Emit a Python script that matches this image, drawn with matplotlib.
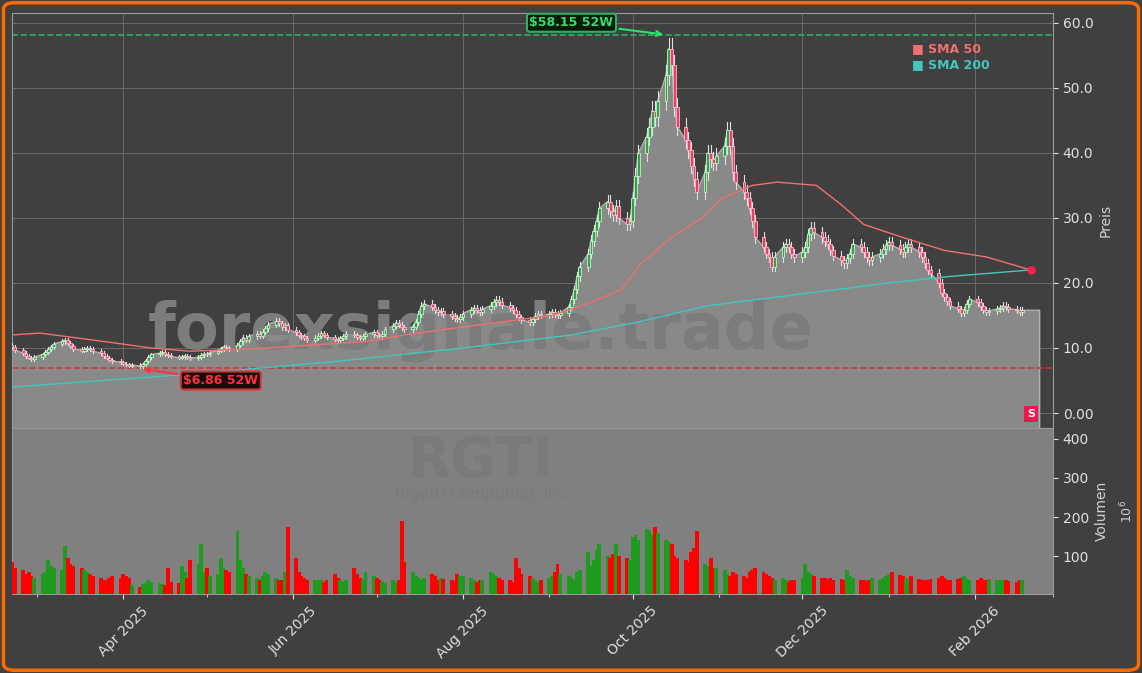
import numpy as np
import pandas as pd
import matplotlib
matplotlib.use('Agg')
import matplotlib.pyplot as plt
import matplotlib.dates as mdates
from matplotlib.patches import FancyBboxPatch

# daily closes (USD), by month, from 2025-02-20
close = [
    10.2, 9.7, 9.2, 8.8, 8.5, 8.3, 8.6,
    9.0, 9.4, 9.8, 10.2, 10.6, 11.0, 11.2, 10.8, 10.3, 9.9, 9.6, 9.8, 10.0, 9.8, 9.5, 9.2, 8.8, 8.5, 8.2, 8.0, 7.8,
    7.6, 7.5, 7.3, 7.4, 7.2, 7.5, 8.0, 8.6, 9.0, 9.2, 9.4, 9.1, 8.9, 8.7, 8.5, 8.6, 8.8, 8.6, 8.4, 8.6, 8.9, 9.1, 9.0, 9.3,
    9.6, 9.9, 10.2, 10.0, 9.8, 10.4, 11.0, 11.6, 11.3, 11.8, 12.2, 11.9, 12.5, 13.0, 13.6, 14.2, 13.8, 13.2, 13.5, 12.8, 12.4,
    12.0, 11.8, 11.5, 11.2, 11.6, 11.9, 12.3, 12.0, 11.7, 11.4, 11.2, 11.5, 11.8, 12.2, 12.0, 11.7, 11.5, 11.8, 12.1, 12.4, 12.0,
    11.8, 12.2, 12.9, 13.4, 13.9, 13.6, 13.2, 12.9, 13.3, 14.0, 15.2, 16.5, 16.8, 16.3, 15.8, 15.5, 15.7, 15.2, 14.9, 14.6, 14.4, 14.8,
    15.3, 15.9, 16.2, 15.8, 15.6, 16.0, 16.5, 17.0, 17.4, 17.1, 16.6, 16.2, 15.8, 15.2, 14.7, 14.3, 14.0, 14.4, 14.9, 15.3, 15.0,
    15.2, 15.6, 15.3, 15.0, 15.4, 16.3, 17.5, 19.0, 21.0, 22.5, 24.5, 26.5, 28.0, 29.5, 31.5, 32.5, 31.0, 30.5, 31.8, 30.0, 29.0,
    29.5, 33.0, 36.5, 40.0, 42.5, 44.0, 46.5, 45.5, 48.0, 52.0, 56.0, 53.5, 47.0, 44.0, 42.0, 40.5, 38.0, 36.0, 34.0, 37.0, 40.0, 39.0, 38.5,
    39.5, 41.0, 43.5, 41.0, 37.0, 35.5, 34.0, 33.0, 31.5, 29.5, 27.0, 25.5, 24.5, 24.0, 22.5, 24.0, 25.5, 26.0, 25.5,
    24.5, 24.0, 24.8, 25.5, 27.5, 28.5, 27.8, 27.0, 26.5, 26.0, 25.0, 24.2, 23.5, 23.0, 23.8, 24.5, 26.0, 25.5, 24.8, 24.0, 23.5, 24.0,
    24.5, 25.2, 25.8, 26.3, 25.8, 25.2, 24.8, 25.5, 26.0, 25.5, 24.8, 24.0, 23.0, 22.0, 21.5, 20.0, 18.5, 17.8, 17.2, 16.5, 16.0,
    15.4, 15.8, 16.8, 17.5, 17.0, 16.4, 15.8, 15.5, 15.7, 16.0, 16.2, 16.5, 16.3, 16.0, 15.9, 15.6, 15.8,
]

# daily volume (millions)
volume = [
    85, 70, 65, 55, 60, 50, 45,
    55, 60, 90, 75, 70, 65, 125, 95, 80, 75, 70, 65, 60, 55, 50, 45, 40, 40, 45, 50, 45,
    55, 50, 45, 25, 22, 28, 30, 40, 35, 30, 28, 25, 70, 35, 30, 75, 60, 45, 90, 80, 130, 60, 70, 50,
    55, 95, 70, 65, 60, 165, 90, 70, 55, 50, 45, 40, 50, 60, 55, 45, 40, 40, 60, 175, 95,
    60, 50, 45, 40, 40, 38, 40, 35, 40, 55, 45, 40, 35, 40, 70, 55, 45, 40, 60, 50, 45,
    40, 35, 30, 40, 35, 38, 190, 85, 60, 50, 45, 40, 45, 55, 50, 40, 45, 42, 40, 35, 55, 50,
    48, 45, 40, 35, 38, 40, 60, 55, 50, 45, 40, 38, 35, 95, 70, 55, 50, 45, 40, 35, 40,
    45, 50, 60, 80, 55, 50, 45, 40, 60, 65, 110, 75, 90, 115, 130, 100, 95, 105, 130, 100, 95,
    90, 150, 155, 140, 170, 165, 155, 175, 160, 140, 135, 130, 100, 95, 90, 85, 110, 120, 165, 80, 75, 95, 70,
    70, 65, 55, 50, 60, 55, 50, 45, 60, 65, 70, 60, 55, 50, 45, 40, 45, 40, 35,
    40, 38, 45, 80, 60, 55, 50, 45, 45, 40, 45, 40, 42, 38, 65, 50, 45, 40, 38, 35, 40, 45,
    40, 45, 50, 55, 60, 52, 48, 42, 45, 50, 42, 40, 38, 40, 42, 45, 50, 45, 40, 38, 42,
    45, 50, 42, 38, 40, 45, 40, 38, 42, 40, 38, 40, 38, 36, 35, 38, 40,
]

# moving averages (date, value)
sma50_dates = ['2025-02-20', '2025-03-02', '2025-03-25', '2025-04-11', '2025-04-25', '2025-05-23',
               '2025-06-09', '2025-06-27', '2025-07-11', '2025-07-28', '2025-08-15', '2025-09-02',
               '2025-09-16', '2025-09-27', '2025-10-04', '2025-10-15', '2025-10-26', '2025-11-02',
               '2025-11-13', '2025-11-22', '2025-12-06', '2025-12-15', '2025-12-23', '2026-01-06',
               '2026-01-21', '2026-02-05', '2026-02-21']
sma50 = [12.0, 12.3, 11.0, 10.0, 9.5, 10.0, 10.5, 11.0, 12.0, 13.0, 14.0, 15.0,
         17.0, 19.0, 23.0, 27.0, 30.0, 33.0, 35.0, 35.5, 35.0, 32.0, 29.0, 27.0,
         25.0, 24.0, 22.0]
sma200_dates = ['2025-02-20', '2025-04-26', '2025-06-18', '2025-08-01', '2025-09-09',
                '2025-10-03', '2025-10-28', '2025-11-25', '2026-01-01', '2026-01-23', '2026-02-21']
sma200 = [4.0, 6.0, 8.0, 10.0, 12.0, 14.0, 16.5, 18.0, 20.0, 21.0, 22.0]

high_52w = 58.15
low_52w = 6.86

n = min(len(close), len(volume))
close = np.array(close[:n])
volume = np.array(volume[:n])
dates = pd.bdate_range('2025-02-20', periods=n)
opens = np.r_[close[0] * 1.02, close[:-1]]
up = close >= opens
highs = np.maximum(opens, close) * 1.03
lows = np.minimum(opens, close) * 0.97

BG = '#404040'
fig = plt.figure(figsize=(11.42, 6.73), dpi=100, facecolor=BG)
fig.patches.append(FancyBboxPatch((0.003, 0.004), 0.994, 0.992, boxstyle='round,pad=0,rounding_size=0.01',
                                  transform=fig.transFigure, fill=False, ec='#ff6a00', lw=2.5))
ax = fig.add_axes([12/1142, 245/673, 1041/1142, 415/673], facecolor=BG)
axv = fig.add_axes([12/1142, 79/673, 1041/1142, 166/673], facecolor='#808080', sharex=ax)

x = mdates.date2num(dates)
ymin = -2.3
# area under close, extended flat to the right edge
xa = np.r_[x, x[-1] + 6]
ya = np.r_[close, close[-1]]
ax.fill_between(xa, ya, ymin, color='#898989', zorder=1)
ax.plot(xa, ya, color='#b0b0b0', lw=1, zorder=1)
ax.plot([xa[-1], xa[-1]], [ymin, ya[-1]], color='#b0b0b0', lw=1, zorder=1)

w = 1.0
for xi, o, c, h, l, u in zip(x, opens, close, highs, lows, up):
    ax.plot([xi, xi], [l, h], color='#e0e0e0', lw=0.8, zorder=3)
    ax.bar(xi, abs(c - o) or 0.1, bottom=min(o, c), width=w,
           color='#3a9a5a' if u else '#e8406a', edgecolor='#b8f8b8' if u else '#ffb8c8', lw=0.6, zorder=4)

ax.plot(pd.to_datetime(sma50_dates), sma50, color='#f07070', lw=1, zorder=5)
ax.plot(pd.to_datetime(sma200_dates), sma200, color='#40c8c0', lw=1, zorder=5)
ax.plot(pd.to_datetime(sma50_dates[-1]), sma50[-1], 'o', color='#ff2050', ms=5, zorder=6)

ax.axhline(high_52w, color='#2fb060', ls='--', lw=1.2, zorder=2)
ax.axhline(low_52w, color='#d03838', ls='--', lw=1.2, zorder=2)
ax.annotate(f'${high_52w:.2f} 52W', xy=(pd.Timestamp('2025-10-13'), high_52w), xytext=(pd.Timestamp('2025-09-09'), 60.0),
            color='#2fe070', fontsize=9, fontweight='bold', ha='center', va='center',
            bbox=dict(boxstyle='round,pad=0.2', fc='#0a1a0a', ec='#2fb060', lw=1.5),
            arrowprops=dict(arrowstyle='->', color='#2fe070', lw=1.5), zorder=8)
ax.annotate(f'${low_52w:.2f} 52W', xy=(pd.Timestamp('2025-04-07'), low_52w), xytext=(pd.Timestamp('2025-05-06'), 5.0),
            color='#ff3040', fontsize=9, fontweight='bold', ha='center', va='center',
            bbox=dict(boxstyle='round,pad=0.2', fc='#1a0a0a', ec='#d03838', lw=1.5),
            arrowprops=dict(arrowstyle='->', color='#ff3040', lw=1.5), zorder=8)

ax.text(0.45, 0.235, 'forexsignale.trade', transform=ax.transAxes, fontsize=46, fontweight='bold',
        color='#7c7c7c', ha='center', va='center', zorder=2)
ax.text(0.979, 0.034, 'S', transform=ax.transAxes, fontsize=8, fontweight='bold', color='white',
        ha='center', va='center', bbox=dict(boxstyle='square,pad=0.25', fc='#f0184a', ec='none'), zorder=8)
ax.text(0.865, 0.905, '■ SMA 50', transform=ax.transAxes, color='#f07070', fontsize=9, fontweight='bold')
ax.text(0.865, 0.868, '■ SMA 200', transform=ax.transAxes, color='#40c8c0', fontsize=9, fontweight='bold')

ax.set_ylim(ymin, 61.5)
ax.set_yticks([0, 10, 20, 30, 40, 50, 60])
ax.set_yticklabels(['0.00', '10.0', '20.0', '30.0', '40.0', '50.0', '60.0'])
ax.yaxis.tick_right()
ax.yaxis.set_label_position('right')
ax.set_ylabel('Preis', color='#d0d0d0', fontsize=10)
ax.grid(True, color='#6a6a6a', lw=0.7)
ax.set_axisbelow(True)
plt.setp(ax.get_xticklabels(), visible=False)
ax.tick_params(axis='x', length=0)

vcol = np.where(up, '#1e9a1e', '#ff0000')
axv.bar(x, volume, width=1.4, color=vcol, zorder=3)
axv.set_ylim(3, 428)
axv.set_yticks([100, 200, 300, 400])
axv.yaxis.tick_right()
axv.yaxis.set_label_position('right')
axv.set_ylabel('Volumen', color='#d0d0d0', fontsize=10)
axv.text(1.063, 0.5, '$10^6$', transform=axv.transAxes, rotation=90, color='#d0d0d0', fontsize=9, va='center')
axv.text(0.45, 0.8, 'RGTI', transform=axv.transAxes, fontsize=40, fontweight='bold', color='#7a7a7a',
         ha='center', va='center', zorder=1)
axv.text(0.45, 0.6, 'Rigetti Computing, Inc', transform=axv.transAxes, fontsize=11, color='#7a7a7a',
         ha='center', va='center', zorder=1)

axv.set_xlim(mdates.date2num(pd.Timestamp('2025-02-20')), mdates.date2num(pd.Timestamp('2026-03-01')))
axv.xaxis.set_major_locator(mdates.MonthLocator(bymonth=[4, 6, 8, 10, 12, 2]))
axv.xaxis.set_minor_locator(mdates.MonthLocator())
axv.xaxis.set_major_formatter(mdates.DateFormatter('%b %Y'))
plt.setp(axv.get_xticklabels(), rotation=45, ha='center')

for a in (ax, axv):
    a.tick_params(colors='#e0e0e0', labelsize=10, which='both')
    for s in a.spines.values():
        s.set_color('#9a9a9a')

fig.savefig('out.png', dpi=100, facecolor=BG)
